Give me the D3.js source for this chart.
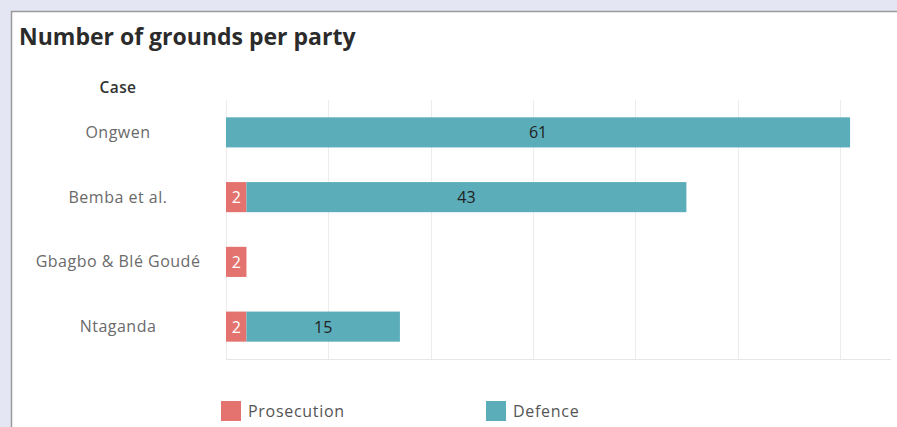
<!DOCTYPE html>
<html>
<head>
<meta charset="utf-8">
<script src="https://cdn.jsdelivr.net/npm/d3@7"></script>
<style>
  html, body { margin: 0; padding: 0; background: #e4e6f3; }
  svg { display: block; }
</style>
</head>
<body>
<svg id="chart" width="897" height="427"></svg>
<script>
// Grounds of appeal per party, by case
const cases = ["Ongwen", "Bemba et al.", "Gbagbo & Blé Goudé", "Ntaganda"];
const prosecution = [0, 2, 2, 2];
const defence = [61, 43, 0, 15];
const parties = ["Prosecution", "Defence"];
const partyColors = ["#e4736f", "#5badb9"];
const xTicks = [0, 10, 20, 30, 40, 50, 60];

const svg = d3.select("#chart");
const W = 897, H = 427;
const font = "'Open Sans', 'Noto Sans', sans-serif";

// panel
svg.append("rect").attr("x", 0).attr("y", 0).attr("width", W).attr("height", H).attr("fill", "#e4e6f3");
svg.append("rect").attr("x", 11.5).attr("y", 11.5).attr("width", W + 10).attr("height", H + 10)
  .attr("fill", "#fff").attr("stroke", "#9a9a9a").attr("stroke-width", 1.5);

svg.append("text").attr("x", 19).attr("y", 45)
  .attr("font-family", font).attr("font-weight", 700).attr("font-size", 23)
  .attr("fill", "#2b2b2b").text("Number of grounds per party");

const x = d3.scaleLinear().domain([0, 65]).range([226, 891]);
const y = d3.scaleBand().domain(cases).range([100, 359]).paddingInner(0.535).paddingOuter(0.2675);

// gridlines
svg.append("g").selectAll("line").data(xTicks).join("line")
  .attr("x1", d => Math.round(x(d)) + 0.5).attr("x2", d => Math.round(x(d)) + 0.5)
  .attr("y1", 100).attr("y2", 359)
  .attr("stroke", "#ececec").attr("stroke-width", 1);
svg.append("line").attr("x1", 226).attr("x2", 891).attr("y1", 359.5).attr("y2", 359.5)
  .attr("stroke", "#e6e6e6");

// header + category labels
svg.append("text").attr("x", 118).attr("y", 93).attr("text-anchor", "middle")
  .attr("font-family", font).attr("font-weight", 600).attr("font-size", 15.5)
  .attr("letter-spacing", 0.4).attr("fill", "#333").text("Case");
svg.append("g").selectAll("text").data(cases).join("text")
  .attr("x", 118).attr("y", d => y(d) + y.bandwidth() / 2 + 5.5)
  .attr("text-anchor", "middle").attr("font-family", font).attr("font-size", 16)
  .attr("letter-spacing", 0.5).attr("fill", "#6a6a6a").text(d => d);

// stacked bars
const rows = cases.map((c, i) => ({ c, p: prosecution[i], d: defence[i] }));
const g = svg.append("g");
rows.forEach(r => {
  const yy = y(r.c), h = y.bandwidth();
  if (r.p > 0) {
    g.append("rect").attr("x", x(0)).attr("y", yy).attr("width", x(r.p) - x(0)).attr("height", h)
      .attr("fill", partyColors[0]);
    g.append("text").attr("x", (x(0) + x(r.p)) / 2).attr("y", yy + h / 2 + 6)
      .attr("text-anchor", "middle").attr("font-family", font).attr("font-size", 16)
      .attr("fill", "#fff").text(r.p);
  }
  if (r.d > 0) {
    g.append("rect").attr("x", x(r.p)).attr("y", yy).attr("width", x(r.p + r.d) - x(r.p)).attr("height", h)
      .attr("fill", partyColors[1]);
    g.append("text").attr("x", (x(r.p) + x(r.p + r.d)) / 2).attr("y", yy + h / 2 + 6)
      .attr("text-anchor", "middle").attr("font-family", font).attr("font-size", 16)
      .attr("fill", "#222").text(r.d);
  }
});

// legend
const legendX = [221, 486];
const lg = svg.append("g").selectAll("g").data(parties).join("g")
  .attr("transform", (d, i) => `translate(${legendX[i]},401)`);
lg.append("rect").attr("width", 20).attr("height", 20).attr("fill", (d, i) => partyColors[i]);
lg.append("text").attr("x", 27).attr("y", 16).attr("font-family", font).attr("font-size", 16)
  .attr("letter-spacing", 0.7).attr("fill", "#555").text(d => d);
</script>
</body>
</html>
